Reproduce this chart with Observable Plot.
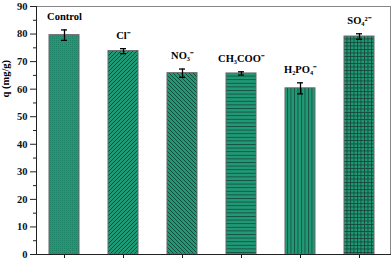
<!DOCTYPE html>
<html><head><meta charset="utf-8">
<script src="https://cdn.jsdelivr.net/npm/d3@7"></script>
<script src="https://cdn.jsdelivr.net/npm/@observablehq/plot@0.6"></script>
<style>body{margin:0;background:#fff}</style>
</head><body><div id="chart"></div>
<script>
const categories = ["Control", "Cl", "NO3", "CH3COO", "H2PO4", "SO4"];
const labels = ["Control", "Cl⁻", "NO₃⁻", "CH₃COO⁻", "H₂PO₄⁻", "SO₄²⁻"];
const values = [79.6, 73.8, 65.8, 65.7, 60.3, 79.1];
const errors = [1.9, 0.9, 1.5, 0.6, 2.0, 1.0];
const yTicks = [0, 10, 20, 30, 40, 50, 60, 70, 80, 90];
const yMinorTicks = [5, 15, 25, 35, 45, 55, 65, 75, 85];
const yTitle = "q (mg/g)";
const patternIds = ["pDots", "pDiagR", "pDiagL", "pHoriz", "pVert", "pGrid"];

const rows = categories.map((c, i) => ({cat: c, label: labels[i], v: values[i], e: errors[i], pat: `url(#${patternIds[i]})`}));

const FONT = "'Liberation Serif', 'Times New Roman', serif";
const plot = Plot.plot({
  width: 392, height: 261,
  marginLeft: 36, marginRight: 2, marginTop: 6, marginBottom: 7,
  style: {fontFamily: FONT, fontSize: "10.5px", fontWeight: "bold", color: "#111", background: "#fff"},
  x: {domain: categories, range: [32, 390], paddingInner: 0.497, paddingOuter: 0.2485, axis: null},
  y: {domain: [0, 90], axis: null},
  color: {type: "identity"},
  marks: [
    Plot.barY(rows, {x: "cat", y: "v", fill: "pat", stroke: "#666", strokeWidth: 1}),
    Plot.ruleX(rows, {x: "cat", y1: d => d.v - d.e, y2: d => d.v + d.e, stroke: "#000", strokeWidth: 1.3}),
    Plot.tickY(rows, {x: "cat", y: d => d.v + d.e, stroke: "#000", strokeWidth: 1.3, insetLeft: 12, insetRight: 12}),
    Plot.tickY(rows, {x: "cat", y: d => d.v - d.e, stroke: "#000", strokeWidth: 1.3, insetLeft: 12, insetRight: 12}),
    Plot.text(rows, {x: "cat", y: d => d.v + d.e, text: "label", dy: -10, lineAnchor: "bottom", fontWeight: "bold", fontSize: 10.5, fill: "#000"}),
    Plot.frame({stroke: "#888"}),
    Plot.frame({anchor: "left", stroke: "#222"}),
    Plot.frame({anchor: "bottom", stroke: "#222"}),
    Plot.axisY({ticks: yTicks, tickSize: 6, tickPadding: 3, label: null, stroke: "#222"}),
    Plot.axisY({ticks: yMinorTicks, tickSize: 3, tickFormat: () => "", label: null, stroke: "#222"}),
    Plot.axisX({tickSize: 4, tickFormat: () => "", label: null, stroke: "#222"}),
    Plot.text([yTitle], {frameAnchor: "left", text: d => d, rotate: -90, dx: -31, dy: -33, fontWeight: "bold", fontSize: 10.5, fill: "#000"})
  ]
});

const TEAL = "#1f9a77", LINE = "#163f33";
const defs = d3.select(plot).insert("defs", ":first-child");
function pat(id, w, h) {
  const p = defs.append("pattern").attr("id", id).attr("patternUnits", "userSpaceOnUse").attr("width", w).attr("height", h);
  p.append("rect").attr("width", w).attr("height", h).attr("fill", TEAL);
  return p;
}
{
  const p = pat("pDots", 2, 2);
  p.append("rect").attr("width", 1).attr("height", 1).attr("fill", LINE).attr("opacity", 0.25);
}
{
  const p = pat("pDiagR", 4, 4);
  p.append("path").attr("d", "M-1,1 l2,-2 M0,4 l4,-4 M3,5 l2,-2").attr("stroke", LINE).attr("stroke-width", 0.9);
}
{
  const p = pat("pDiagL", 4, 4);
  p.append("path").attr("d", "M-1,3 l2,2 M0,0 l4,4 M3,-1 l2,2").attr("stroke", LINE).attr("stroke-width", 0.9);
}
{
  const p = pat("pHoriz", 4, 3.6);
  p.append("path").attr("d", "M0,0.5 h4").attr("stroke", LINE).attr("stroke-width", 0.8);
}
{
  const p = pat("pVert", 3.5, 4);
  p.append("path").attr("d", "M0.5,0 v4").attr("stroke", LINE).attr("stroke-width", 0.8);
}
{
  const p = pat("pGrid", 3.5, 3.5);
  p.append("path").attr("d", "M0,0.5 h3.5 M0.5,0 v3.5").attr("stroke", LINE).attr("stroke-width", 0.8);
}
document.getElementById("chart").appendChild(plot);
</script>
</body></html>
